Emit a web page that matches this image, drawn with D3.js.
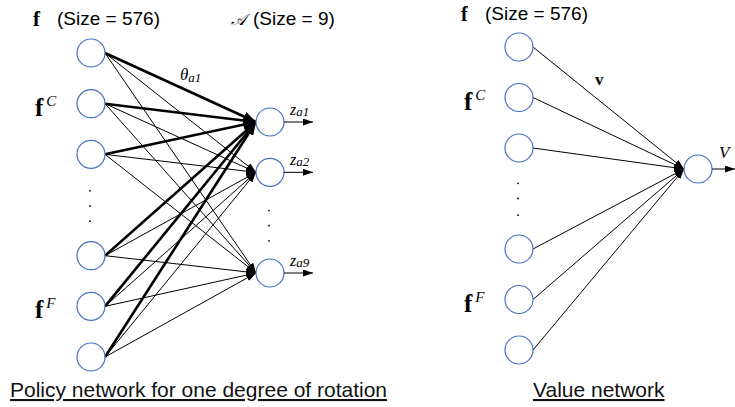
<!DOCTYPE html>
<html><head><meta charset="utf-8">
<script src="https://cdn.jsdelivr.net/npm/d3@7/dist/d3.min.js"></script>
<style>body{margin:0;background:#fff}svg{display:block}</style>
</head><body>
<svg id="c" width="735" height="407"></svg>
<script>
// ---- data ----
const policyInputSlots = [0, 1, 2, 4, 5, 6];
const policyInputLabels = ["", "C", "", "", "F", ""];
const policyOutputSlots = [0, 1, 3];
const policyOutputLabels = ["a1", "a2", "a9"];
const policyThickOutput = 0;            // edges into z_a1 are drawn bold
const policyDotSlotsIn = [2.72, 3.02, 3.32];
const policyDotSlotsOut = [1.76, 2.06, 2.36];
const valueInputSlots = [0, 1, 2, 4, 5, 6];
const valueInputLabels = ["", "C", "", "", "F", ""];
const valueDotSlots = [2.7, 3.0, 3.33];
const titles = ["Policy network for one degree of rotation", "Value network"];
const sizeLabels = ["(Size = 576)", "(Size = 9)"];

const svg = d3.select("#c");
const R = 14, BLUE = "#4472c4";
const defs = svg.append("defs");
function marker(id, w, h) {
  defs.append("marker").attr("id", id).attr("markerUnits", "userSpaceOnUse")
    .attr("markerWidth", w).attr("markerHeight", h).attr("refX", w).attr("refY", h / 2)
    .attr("orient", "auto").attr("viewBox", `0 0 ${w} ${h}`)
    .append("path").attr("d", `M0,0L${w},${h / 2}L0,${h}Z`).attr("fill", "#000");
}
marker("thin", 10, 7);
marker("thick", 13, 10);
marker("out", 10, 7);

// ---- policy network ----
const xIn = 91, xOut = 270;
const yIn = d3.scaleLinear().domain([0, 6]).range([53, 357]);
const yOut = d3.scaleLinear().domain([0, 3]).range([122, 273]);

const edges = [];
policyInputSlots.forEach((s, i) => policyOutputSlots.forEach((t, j) => edges.push({ s, t, j })));
edges.sort((a, b) => (a.j === policyThickOutput) - (b.j === policyThickOutput));
svg.append("g").selectAll("line").data(edges).join("line")
  .attr("x1", xIn + R).attr("y1", d => yIn(d.s))
  .attr("x2", xOut - R).attr("y2", d => yOut(d.t))
  .attr("stroke", "#000")
  .attr("stroke-width", d => d.j === policyThickOutput ? 2.6 : 1)
  .attr("marker-end", d => d.j === policyThickOutput ? "url(#thick)" : "url(#thin)");

svg.append("g").selectAll("circle").data(policyInputSlots).join("circle")
  .attr("cx", xIn).attr("cy", d => yIn(d)).attr("r", R)
  .attr("fill", "#fff").attr("stroke", BLUE).attr("stroke-width", 1.2);
svg.append("g").selectAll("circle").data(policyOutputSlots).join("circle")
  .attr("cx", xOut).attr("cy", d => yOut(d)).attr("r", R)
  .attr("fill", "#fff").attr("stroke", BLUE).attr("stroke-width", 1.2);

svg.append("g").selectAll("line").data(policyOutputSlots).join("line")
  .attr("x1", xOut + R).attr("y1", d => yOut(d)).attr("x2", 313).attr("y2", d => yOut(d))
  .attr("stroke", "#000").attr("stroke-width", 1).attr("marker-end", "url(#out)");

svg.append("g").selectAll("circle").data(policyDotSlotsIn).join("circle")
  .attr("cx", xIn - 1).attr("cy", d => yIn(d)).attr("r", 0.9).attr("fill", "#000");
svg.append("g").selectAll("circle").data(policyDotSlotsOut).join("circle")
  .attr("cx", xOut - 1).attr("cy", d => yOut(d)).attr("r", 0.9).attr("fill", "#000");

const SERIF = "'Liberation Serif', 'DejaVu Serif', serif";
const SANS = "'Liberation Sans', Arial, sans-serif";

function fLabel(x, y, sup, size) {
  const t = svg.append("text").attr("x", x).attr("y", y).attr("font-family", SERIF)
    .attr("font-weight", "bold").attr("font-size", size).attr("fill", "#000").text("f");
  if (sup) t.append("tspan").attr("font-weight", "normal").attr("font-style", "italic")
    .attr("font-size", 15).attr("dx", 3).attr("dy", -10).text(sup);
}
svg.append("g").selectAll("text").data(policyOutputLabels).join("text")
  .attr("x", 290).attr("y", (d, i) => yOut(policyOutputSlots[i]) - 7)
  .attr("font-family", SERIF).attr("font-size", 16).attr("font-style", "italic")
  .each(function (d) {
    const t = d3.select(this);
    t.append("tspan").text("z");
    t.append("tspan").attr("font-size", 13).attr("dy", 1).text(d);
  });

fLabel(33, 26, null, 21);
svg.append("text").attr("x", 57).attr("y", 25).attr("font-family", SANS).attr("font-size", 19).text(sizeLabels[0]);
svg.append("text").attr("x", 231).attr("y", 25).attr("font-family", SERIF).attr("font-style", "italic").attr("font-size", 16).text("𝒜");
svg.append("text").attr("x", 253).attr("y", 25).attr("font-family", SANS).attr("font-size", 19).text(sizeLabels[1]);
policyInputLabels.forEach((l, i) => { if (l) fLabel(35, yIn(policyInputSlots[i]) + 12, l, 25); });
const th = svg.append("text").attr("x", 180).attr("y", 80).attr("font-family", SERIF).attr("font-style", "italic").attr("font-size", 17);
th.append("tspan").text("θ");
th.append("tspan").attr("font-size", 13).attr("dy", 2).text("a1");

svg.append("text").attr("x", 10).attr("y", 397).attr("font-family", SANS).attr("font-size", 21)
  .attr("text-decoration", "underline").attr("fill", "#111").text(titles[0]);

// ---- value network ----
const vxIn = 519, vxOut = 698, vyOut = 169;
const vyIn = d3.scaleLinear().domain([0, 6]).range([47, 350]);
svg.append("g").selectAll("line").data(valueInputSlots).join("line")
  .attr("x1", vxIn + R).attr("y1", d => vyIn(d)).attr("x2", vxOut - R).attr("y2", vyOut)
  .attr("stroke", "#000").attr("stroke-width", 1).attr("marker-end", "url(#thin)");
svg.append("g").selectAll("circle").data(valueInputSlots).join("circle")
  .attr("cx", vxIn).attr("cy", d => vyIn(d)).attr("r", R)
  .attr("fill", "#fff").attr("stroke", BLUE).attr("stroke-width", 1.2);
svg.append("circle").attr("cx", vxOut).attr("cy", vyOut).attr("r", R)
  .attr("fill", "#fff").attr("stroke", BLUE).attr("stroke-width", 1.2);
svg.append("line").attr("x1", vxOut + R).attr("y1", vyOut).attr("x2", 735).attr("y2", vyOut)
  .attr("stroke", "#000").attr("stroke-width", 1).attr("marker-end", "url(#out)");
svg.append("g").selectAll("circle").data(valueDotSlots).join("circle")
  .attr("cx", vxIn - 1).attr("cy", d => vyIn(d)).attr("r", 0.9).attr("fill", "#000");

fLabel(461, 21, null, 20);
svg.append("text").attr("x", 485).attr("y", 20).attr("font-family", SANS).attr("font-size", 19).text(sizeLabels[0]);
valueInputLabels.forEach((l, i) => { if (l) fLabel(464, vyIn(valueInputSlots[i]) + 12, l, 25); });
svg.append("text").attr("x", 595).attr("y", 85).attr("font-family", SERIF).attr("font-weight", "bold").attr("font-size", 17).text("v");
svg.append("text").attr("x", 719).attr("y", 158).attr("font-family", SERIF).attr("font-style", "italic").attr("font-size", 17).text("V");
svg.append("text").attr("x", 533).attr("y", 397).attr("font-family", SANS).attr("font-size", 21)
  .attr("text-decoration", "underline").attr("fill", "#111").text(titles[1]);
</script>
</body></html>
